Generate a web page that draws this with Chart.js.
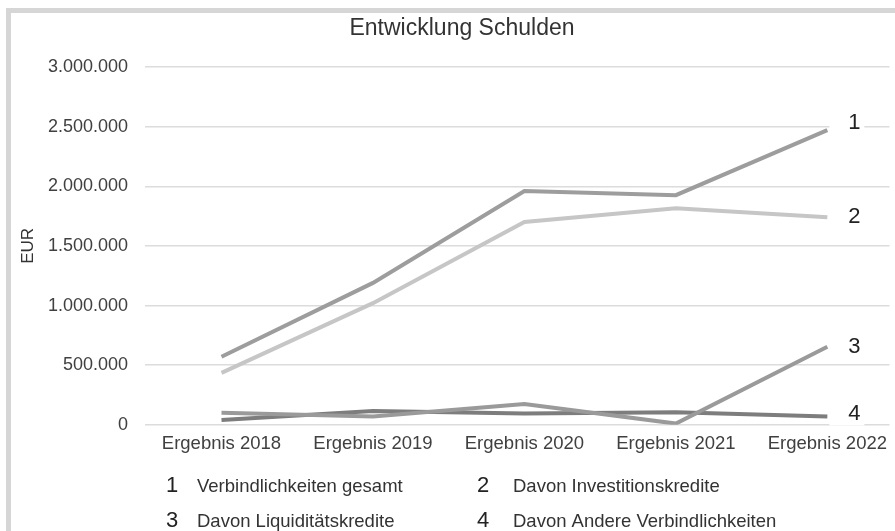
<!DOCTYPE html>
<html>
<head>
<meta charset="utf-8">
<script src="https://cdn.jsdelivr.net/npm/chart.js@4"></script>
<style>
  body { margin: 0; background: #fff; }
  #wrap { position: relative; width: 895px; height: 531px; }
  #frame { position: absolute; left: 6px; top: 8px; right: 0; bottom: 0;
           border-top: 5px solid #d6d6d6; border-left: 5px solid #d6d6d6; }
  canvas { position: absolute; left: 0; top: 0; }
</style>
</head>
<body>
<div id="wrap">
  <div id="frame"></div>
  <canvas id="chart" width="895" height="531"></canvas>
</div>
<script>
const categories = ['Ergebnis 2018', 'Ergebnis 2019', 'Ergebnis 2020', 'Ergebnis 2021', 'Ergebnis 2022'];
const gesamt = [570000, 1190000, 1960000, 1925000, 2470000];
const investition = [435000, 1020000, 1700000, 1815000, 1740000];
const liquiditaet = [100000, 70000, 175000, 10000, 655000];
const andere = [40000, 115000, 95000, 105000, 70000];
const seriesNames = ['Verbindlichkeiten gesamt', 'Davon Investitionskredite', 'Davon Liquiditätskredite', 'Davon Andere Verbindlichkeiten'];
const seriesNums = ['1', '2', '3', '4'];
const yTicks = [0, 500000, 1000000, 1500000, 2000000, 2500000, 3000000];
const chartTitle = 'Entwicklung Schulden';

const FONT = '"Liberation Sans", Arial, sans-serif';
Chart.defaults.font.family = FONT;

function fmt(v) {
    return String(v).replace(/\B(?=(\d{3})+(?!\d))/g, '.');
}

function points(arr) {
    return arr.map((v, i) => ({ x: i, y: v }));
}

// title, slightly right of the canvas centre like the original
const titlePlugin = {
    id: 'titlePlugin',
    afterDraw(chart) {
        const ctx = chart.ctx;
        ctx.save();
        ctx.fillStyle = '#333';
        ctx.font = '23px ' + FONT;
        ctx.textAlign = 'center';
        ctx.textBaseline = 'middle';
        ctx.fillText(chartTitle, 462, 29);
        ctx.restore();
    }
};

// end labels 1..4 at the last point of each line
const endLabels = {
    id: 'endLabels',
    afterDatasetsDraw(chart) {
        const ctx = chart.ctx;
        const shift = [-7, 0, 0, -3];
        ctx.save();
        chart.data.datasets.forEach((ds, i) => {
            const meta = chart.getDatasetMeta(i);
            const p = meta.data[meta.data.length - 1];
            const x = p.x + 2;
            const y = p.y + shift[i];
            ctx.fillStyle = '#fff';
            ctx.fillRect(x, y - 12, 35, 24);
            ctx.fillStyle = '#222';
            ctx.font = '22px ' + FONT;
            ctx.textAlign = 'center';
            ctx.textBaseline = 'middle';
            ctx.fillText(seriesNums[i], x + 25, y);
        });
        ctx.restore();
    }
};

// legend below the axis, two columns
const bottomLegend = {
    id: 'bottomLegend',
    afterDraw(chart) {
        const ctx = chart.ctx;
        const colX = [172, 483];
        const rowY = [487, 522];
        ctx.save();
        ctx.textBaseline = 'middle';
        seriesNames.forEach((name, i) => {
            const cx = colX[i % 2];
            const cy = rowY[Math.floor(i / 2)];
            ctx.fillStyle = '#222';
            ctx.textAlign = 'center';
            ctx.font = '22px ' + FONT;
            ctx.fillText(seriesNums[i], cx, cy - 1);
            ctx.fillStyle = '#333';
            ctx.textAlign = 'left';
            ctx.font = '18.5px ' + FONT;
            ctx.fillText(name, cx + (i % 2 ? 30 : 25), cy);
        });
        ctx.restore();
    }
};

new Chart(document.getElementById('chart'), {
    type: 'line',
    data: {
        datasets: [
            { label: seriesNames[0], data: points(gesamt), borderColor: '#9d9d9d' },
            { label: seriesNames[1], data: points(investition), borderColor: '#c6c6c6' },
            { label: seriesNames[2], data: points(liquiditaet), borderColor: '#9a9a9a' },
            { label: seriesNames[3], data: points(andere), borderColor: '#7d7d7d' }
        ]
    },
    options: {
        responsive: false,
        animation: false,
        layout: { padding: { left: 0, right: 0, top: 67, bottom: 68 } },
        elements: {
            line: { borderWidth: 4, tension: 0, borderCapStyle: 'butt' },
            point: { radius: 0 }
        },
        plugins: {
            legend: { display: false },
            tooltip: { enabled: false },
            title: { display: false }
        },
        scales: {
            x: {
                type: 'linear',
                min: -0.505,
                max: 4.41,
                afterBuildTicks: s => { s.ticks = categories.map((c, i) => ({ value: i })); },
                grid: { display: false, drawTicks: false },
                border: { display: false },
                ticks: {
                    autoSkip: false,
                    maxRotation: 0,
                    padding: 8,
                    color: '#404040',
                    font: { size: 18.5 },
                    callback: v => categories[v]
                }
            },
            y: {
                min: 0,
                max: 3000000,
                afterBuildTicks: s => { s.ticks = yTicks.map(v => ({ value: v })); },
                afterFit: s => { s.width = 145; },
                grid: { color: '#dcdcdc', lineWidth: 1.5, drawTicks: false },
                border: { display: false },
                ticks: {
                    padding: 17,
                    color: '#404040',
                    font: { size: 18 },
                    callback: v => fmt(v)
                },
                title: {
                    display: true,
                    text: 'EUR',
                    color: '#333',
                    font: { size: 17 },
                    padding: { top: 18, bottom: 0 }
                }
            }
        }
    },
    plugins: [titlePlugin, endLabels, bottomLegend]
});
</script>
</body>
</html>
